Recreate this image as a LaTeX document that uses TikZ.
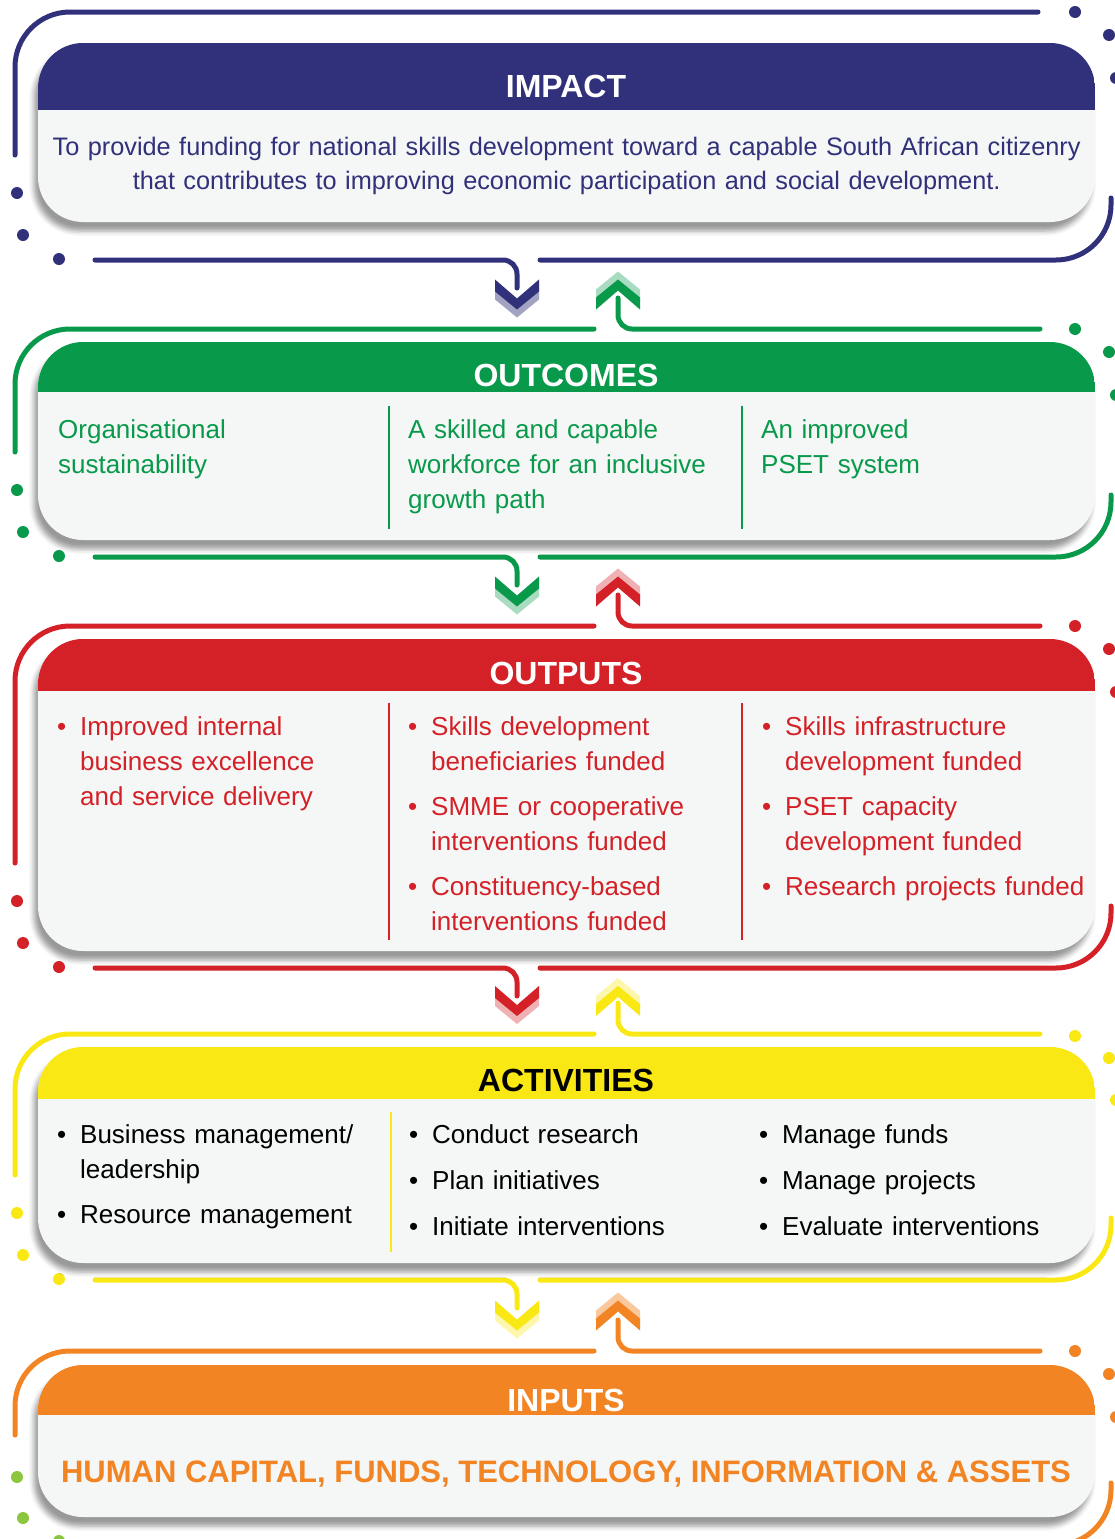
\documentclass[tikz,border=0pt]{standalone}
\usepackage{fontspec}
\setmainfont{Liberation Sans}
\usepackage{tikz}
\usetikzlibrary{shadows.blur, positioning}

\definecolor{impactblue}{HTML}{31307A}
\definecolor{outcomegreen}{HTML}{08994A}
\definecolor{outputred}{HTML}{D42027}
\definecolor{activityyellow}{HTML}{F9E814}
\definecolor{inputorange}{HTML}{F28424}
\definecolor{dotgreen}{HTML}{8CC63F}
\definecolor{panelgray}{HTML}{F5F7F6}

\newcommand{\itembullet}{\leavevmode\llap{\textbullet\hspace{14pt}}}

\begin{document}
\begin{tikzpicture}[
    x=1pt, y=-1pt,
    panel/.style={rectangle, fill=panelgray, minimum width=1057pt, rounded corners=45pt, inner sep=0pt, outer sep=0pt,
        blur shadow={shadow xshift=-4pt, shadow yshift=-9pt, shadow blur radius=5pt, shadow opacity=40}},
    head/.style={anchor=base, inner sep=0pt, font=\fontsize{32}{38}\selectfont\bfseries},
    body/.style={anchor=base west, inner sep=0pt, align=left, text width=#1, font=\fontsize{26}{35}\selectfont},
    loopline/.style={draw=#1, line width=5pt, line cap=round},
    divider/.style={draw=#1, line width=2.5pt},
    downchev/.style={insert path={(-22,0) -- (0,19) -- (22,0) -- (22,12) -- (0,30) -- (-22,12) -- cycle}},
    upchev/.style={insert path={(-22,0) -- (0,-19) -- (22,0) -- (22,-12) -- (0,-30) -- (-22,-12) -- cycle}}
]
\useasboundingbox (0,0) rectangle (1115,1539);
\clip (0,0) rectangle (1115,1539);

% Loop lines round the panels
\draw[loopline=impactblue, rounded corners=55pt] (15,155) -- (15,12) -- (1038,12);
\draw[loopline=impactblue, rounded corners=14pt] (95,260) -- (517,260) -- (517,288);
\draw[loopline=impactblue, rounded corners=55pt] (540,260) -- (1111,260) -- (1111,198);
\fill[impactblue] (1075,12) circle (6pt) (1109,35) circle (6pt) (1116,78) circle (6pt)
    (17,193) circle (6pt) (23,235) circle (6pt) (59,259) circle (6pt);

\draw[loopline=outcomegreen, rounded corners=55pt] (15,452) -- (15,329) -- (594,329);
\draw[loopline=outcomegreen, rounded corners=14pt] (618,298) -- (618,329) -- (1040,329);
\draw[loopline=outcomegreen, rounded corners=14pt] (95,557) -- (517,557) -- (517,585);
\draw[loopline=outcomegreen, rounded corners=55pt] (540,557) -- (1111,557) -- (1111,495);
\fill[outcomegreen] (1075,329) circle (6pt) (1109,352) circle (6pt) (1116,395) circle (6pt)
    (17,490) circle (6pt) (23,532) circle (6pt) (59,556) circle (6pt);

\draw[loopline=outputred, rounded corners=55pt] (15,863) -- (15,626) -- (594,626);
\draw[loopline=outputred, rounded corners=14pt] (618,595) -- (618,626) -- (1040,626);
\draw[loopline=outputred, rounded corners=14pt] (95,968) -- (517,968) -- (517,996);
\draw[loopline=outputred, rounded corners=55pt] (540,968) -- (1111,968) -- (1111,906);
\fill[outputred] (1075,626) circle (6pt) (1109,649) circle (6pt) (1116,692) circle (6pt)
    (17,901) circle (6pt) (23,943) circle (6pt) (59,967) circle (6pt);

\draw[loopline=activityyellow, rounded corners=55pt] (15,1175) -- (15,1034) -- (594,1034);
\draw[loopline=activityyellow, rounded corners=14pt] (618,1003) -- (618,1034) -- (1040,1034);
\draw[loopline=activityyellow, rounded corners=14pt] (95,1280) -- (517,1280) -- (517,1308);
\draw[loopline=activityyellow, rounded corners=55pt] (540,1280) -- (1111,1280) -- (1111,1218);
\fill[activityyellow] (1075,1036) circle (6pt) (1109,1058) circle (6pt) (1116,1100) circle (6pt)
    (17,1213) circle (6pt) (23,1255) circle (6pt) (59,1279) circle (6pt);

\draw[loopline=inputorange, rounded corners=55pt] (15,1435) -- (15,1351) -- (594,1351);
\draw[loopline=inputorange, rounded corners=14pt] (618,1320) -- (618,1351) -- (1040,1351);
\draw[loopline=inputorange, rounded corners=55pt] (1000,1545) -- (1111,1545) -- (1111,1483);
\fill[inputorange] (1075,1351) circle (6pt) (1109,1374) circle (6pt) (1116,1417) circle (6pt);
\fill[dotgreen] (17,1477) circle (6pt) (23,1518) circle (6pt) (59,1541) circle (6pt);

% Place the panels
\node[panel, minimum height=179pt] (impact) at (566.5,132.5) {};
\node[panel, minimum height=198pt] (outcomes) at (566.5,441) {};
\node[panel, minimum height=312pt] (outputs) at (566.5,795) {};
\node[panel, minimum height=216pt] (activities) at (566.5,1155) {};
\node[panel, minimum height=152pt] (inputs) at (566.5,1441) {};

% Header bands
\begin{scope}
\clip[rounded corners=45pt] (impact.north west) rectangle (impact.south east);
\fill[impactblue] (impact.north west) rectangle (1095,110);
\end{scope}
\begin{scope}
\clip[rounded corners=45pt] (outcomes.north west) rectangle (outcomes.south east);
\fill[outcomegreen] (outcomes.north west) rectangle (1095,392);
\end{scope}
\begin{scope}
\clip[rounded corners=45pt] (outputs.north west) rectangle (outputs.south east);
\fill[outputred] (outputs.north west) rectangle (1095,691);
\end{scope}
\begin{scope}
\clip[rounded corners=45pt] (activities.north west) rectangle (activities.south east);
\fill[activityyellow] (activities.north west) rectangle (1095,1099);
\end{scope}
\begin{scope}
\clip[rounded corners=45pt] (inputs.north west) rectangle (inputs.south east);
\fill[inputorange] (inputs.north west) rectangle (1095,1415);
\end{scope}

\node[head, text=white] (impacthead) at (566,97) {IMPACT};
\node[head, text=white] (outcomeshead) at (566,386) {OUTCOMES};
\node[head, text=white] (outputshead) at (566,684) {OUTPUTS};
\node[head, text=black] (activitieshead) at (566,1091) {ACTIVITIES};
\node[head, text=white] (inputshead) at (566,1411) {INPUTS};

% Panel texts
\node[body=1057pt, align=center, text=impactblue, font=\fontsize{25.3}{34}\selectfont] (impacttext) at (38,155)
    {To provide funding for national skills development toward a capable South African citizenry\\
     that contributes to improving economic participation and social development.};

\node[body=320pt, text=outcomegreen] (outcome1) at (58,438) {Organisational\\sustainability};
\node[body=330pt, text=outcomegreen] (outcome2) at (408,438) {A skilled and capable\\workforce for an inclusive\\growth path};
\node[body=330pt, text=outcomegreen] (outcome3) at (761,438) {An improved\\PSET system};
\draw[divider=outcomegreen] (389,406) -- (389,529);
\draw[divider=outcomegreen] (742,406) -- (742,529);

\node[body=300pt, text=outputred] (output1) at (80,735)
    {\itembullet Improved internal\\business excellence\\and service delivery};
\node[body=310pt, text=outputred] (output2) at (431,735)
    {\itembullet Skills development\\beneficiaries funded\\[10pt]
     \itembullet SMME or cooperative\\interventions funded\\[10pt]
     \itembullet Constituency-based\\interventions funded};
\node[body=320pt, text=outputred] (output3) at (785,735)
    {\itembullet Skills infrastructure\\development funded\\[10pt]
     \itembullet PSET capacity\\development funded\\[10pt]
     \itembullet Research projects funded};
\draw[divider=outputred] (389,703) -- (389,940);
\draw[divider=outputred] (742,703) -- (742,940);

\node[body=300pt] (activity1) at (80,1143)
    {\itembullet Business management/\\leadership\\[10pt]\itembullet Resource management};
\node[body=310pt] (activity2) at (432,1143)
    {\itembullet Conduct research\\[11pt]\itembullet Plan initiatives\\[11pt]\itembullet Initiate interventions};
\node[body=320pt] (activity3) at (782,1143)
    {\itembullet Manage funds\\[11pt]\itembullet Manage projects\\[11pt]\itembullet Evaluate interventions};
\draw[divider=activityyellow] (391,1112) -- (391,1252);

\node[anchor=base, inner sep=0pt, font=\fontsize{31}{36}\selectfont\bfseries, text=inputorange] (inputtext) at (566,1482)
    {HUMAN CAPITAL, FUNDS, TECHNOLOGY, INFORMATION \& ASSETS};

% Chevrons between the panels
\fill[impactblue!45, shift={(517,287.5)}, downchev];
\fill[impactblue, shift={(517,279.5)}, downchev];
\fill[outcomegreen!35, shift={(618,301.5)}, upchev];
\fill[outcomegreen, shift={(618,309.5)}, upchev];

\fill[outcomegreen!35, shift={(517,584.5)}, downchev];
\fill[outcomegreen, shift={(517,576.5)}, downchev];
\fill[outputred!35, shift={(618,598.5)}, upchev];
\fill[outputred, shift={(618,606.5)}, upchev];

\fill[outputred!35, shift={(517,994)}, downchev];
\fill[outputred, shift={(517,986)}, downchev];
\fill[activityyellow!35, shift={(618,1008)}, upchev];
\fill[activityyellow, shift={(618,1016)}, upchev];

\fill[activityyellow!35, shift={(517,1308.5)}, downchev];
\fill[activityyellow, shift={(517,1300.5)}, downchev];
\fill[inputorange!45, shift={(618,1322.5)}, upchev];
\fill[inputorange, shift={(618,1330.5)}, upchev];

\end{tikzpicture}
\end{document}
